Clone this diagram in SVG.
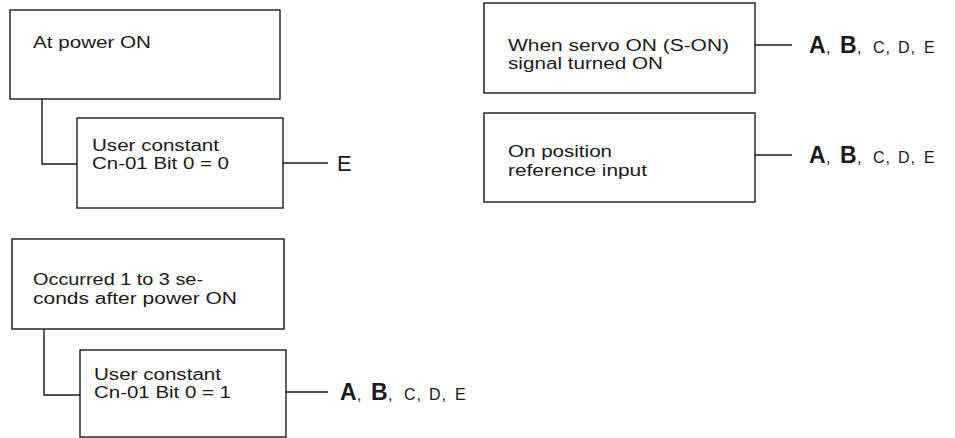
<svg xmlns="http://www.w3.org/2000/svg" width="955" height="438" viewBox="0 0 955 438">
<style>
.box{fill:#fff;stroke:#1a1a1a;stroke-width:1.4}
.t{font-family:"Liberation Sans",Arial,sans-serif;font-size:16px;fill:#1a1a1a}
.c{fill:none;stroke:#1a1a1a;stroke-width:1.4}
.lb{font-family:"Liberation Sans",Arial,sans-serif;fill:#1a1a1a}
.big{font-size:23px;font-weight:bold}
.sm{font-size:16px}
</style>
<rect width="955" height="438" fill="#fff"/>
<g id="connectors">
<polyline class="c" points="42,99 42,164 77,164"/>
<line class="c" x1="283" y1="163" x2="328" y2="163"/>
<polyline class="c" points="44,329 44,395 80,395"/>
<line class="c" x1="286" y1="392" x2="328" y2="392"/>
<line class="c" x1="755" y1="45" x2="792" y2="45"/>
<line class="c" x1="755" y1="155" x2="792" y2="155"/>
</g>
<g id="n1">
<rect class="box" x="10" y="10" width="270" height="89"/>
<text class="t" x="33" y="48" textLength="118" lengthAdjust="spacingAndGlyphs">At power ON</text>
</g>
<g id="n2">
<rect class="box" x="77" y="118" width="206" height="90"/>
<text class="t" x="92" y="150.5" textLength="127" lengthAdjust="spacingAndGlyphs">User constant</text>
<text class="t" x="92" y="169" textLength="137" lengthAdjust="spacingAndGlyphs">Cn-01 Bit 0 = 0</text>
</g>
<g id="n3">
<rect class="box" x="12" y="239" width="272" height="90"/>
<text class="t" x="33" y="285" textLength="170" lengthAdjust="spacingAndGlyphs">Occurred 1 to 3 se-</text>
<text class="t" x="33" y="303.5" textLength="204" lengthAdjust="spacingAndGlyphs">conds after power ON</text>
</g>
<g id="n4">
<rect class="box" x="80" y="350" width="206" height="87"/>
<text class="t" x="94" y="379.5" textLength="127" lengthAdjust="spacingAndGlyphs">User constant</text>
<text class="t" x="94" y="398" textLength="137" lengthAdjust="spacingAndGlyphs">Cn-01 Bit 0 = 1</text>
</g>
<g id="n5">
<rect class="box" x="484" y="3" width="271" height="90"/>
<text class="t" x="508" y="50.5" textLength="221" lengthAdjust="spacingAndGlyphs">When servo ON (S-ON)</text>
<text class="t" x="508" y="69" textLength="155" lengthAdjust="spacingAndGlyphs">signal turned ON</text>
</g>
<g id="n6">
<rect class="box" x="484" y="113" width="271" height="89"/>
<text class="t" x="508" y="157" textLength="104" lengthAdjust="spacingAndGlyphs">On position</text>
<text class="t" x="508" y="175.5" textLength="139" lengthAdjust="spacingAndGlyphs">reference input</text>
</g>
<g id="labels">
<text class="lb" x="337" y="171" font-size="22">E</text>
<text class="lb" y="53"><tspan class="big" x="809">A</tspan><tspan class="sm" x="826">,</tspan><tspan class="big" x="840">B</tspan><tspan class="sm" x="857">,</tspan><tspan class="sm" x="873">C</tspan><tspan class="sm" x="885.5">,</tspan><tspan class="sm" x="898">D</tspan><tspan class="sm" x="910.5">,</tspan><tspan class="sm" x="924">E</tspan></text>
<text class="lb" y="163"><tspan class="big" x="809">A</tspan><tspan class="sm" x="826">,</tspan><tspan class="big" x="840">B</tspan><tspan class="sm" x="857">,</tspan><tspan class="sm" x="873">C</tspan><tspan class="sm" x="885.5">,</tspan><tspan class="sm" x="898">D</tspan><tspan class="sm" x="910.5">,</tspan><tspan class="sm" x="924">E</tspan></text>
<text class="lb" y="400"><tspan class="big" x="340">A</tspan><tspan class="sm" x="357">,</tspan><tspan class="big" x="371">B</tspan><tspan class="sm" x="388">,</tspan><tspan class="sm" x="404">C</tspan><tspan class="sm" x="416.5">,</tspan><tspan class="sm" x="429">D</tspan><tspan class="sm" x="441.5">,</tspan><tspan class="sm" x="455">E</tspan></text>
</g>
</svg>
